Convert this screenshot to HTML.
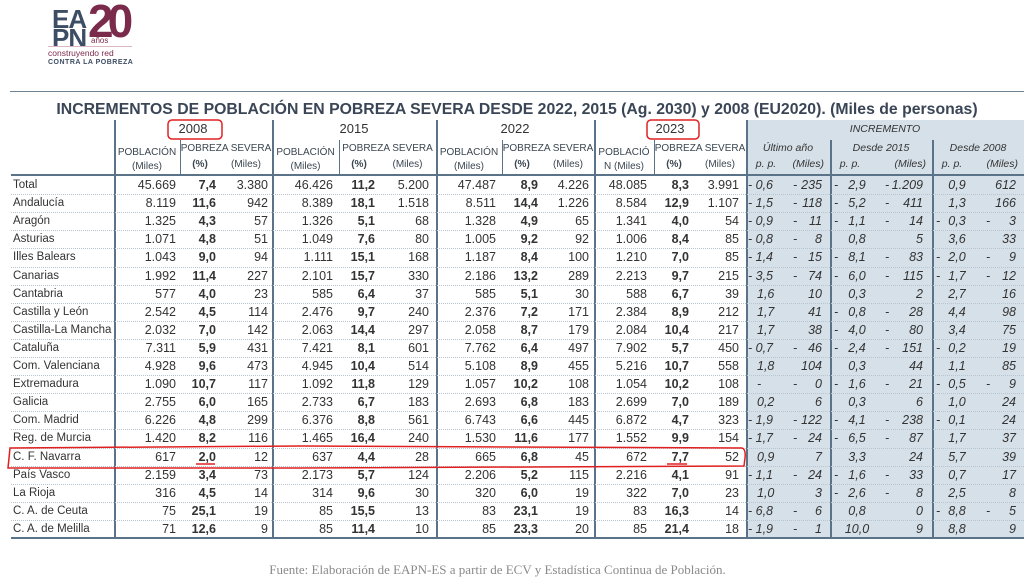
<!DOCTYPE html>
<html><head><meta charset="utf-8">
<style>
body{margin:0;width:1024px;height:582px;background:#fff;position:relative;overflow:hidden;font-family:"Liberation Sans",Arial,sans-serif;color:#333}
.a{position:absolute;white-space:nowrap}
.t{font-size:11.5px;line-height:18px}
.n{font-size:12.5px;line-height:18px;text-align:right}
.b{font-weight:bold}
.i{font-style:italic}
.hd{font-size:10px;color:#3a4650;text-align:center;line-height:14px}
</style></head><body>
<div class="a" style="left:746px;top:120px;width:278px;height:418px;background:#d6e0e8"></div>
<div class="a" style="left:46px;top:2px;width:90px;height:64px">
 <div class="a" style="left:6px;top:2px;font:bold 26px 'Liberation Sans';color:#3d4d63;letter-spacing:-1px">EA</div>
 <div class="a" style="left:6px;top:21px;font:bold 26px 'Liberation Sans';color:#3d4d63;letter-spacing:-1px">PN</div>
 <div class="a" style="left:42px;top:-8px;font:bold 46px 'Liberation Sans';color:#7a2a4a;letter-spacing:-6px">20</div>
 <div class="a" style="left:45px;top:34px;font-size:8px;color:#7a2a4a">años</div>
 <div class="a" style="left:2px;top:44px;width:84px;height:1px;background:#d9b8c4"></div>
 <div class="a" style="left:2px;top:46px;font-size:8.5px;color:#7a2a4a">construyendo red</div>
 <div class="a" style="left:2px;top:57px;font:bold 7px 'Liberation Sans';color:#3d4d63;letter-spacing:0.5px">CONTRA LA POBREZA</div>
</div>
<div class="a" style="left:10px;top:91px;width:1014px;height:1px;background:#6e8294"></div>
<div class="a b" style="left:0;width:1034px;top:101px;text-align:center;font-size:15.8px;color:#3a4656">INCREMENTOS DE POBLACIÓN EN POBREZA SEVERA DESDE 2022, 2015 (Ag. 2030) y 2008 (EU2020). (Miles de personas)</div>
<div id="tbl"></div>
<div class="a" style="left:0;width:995px;top:562px;text-align:center;font-family:'Liberation Serif',serif;font-size:13px;color:#8a8a8a">Fuente: Elaboración de EAPN-ES a partir de ECV y Estadística Continua de Población.</div>
<svg class="a" style="left:0;top:0" width="1024" height="582">
 <rect x="168" y="120" width="54" height="19" rx="4" fill="none" stroke="#e02020" stroke-width="1.5"/>
 <rect x="647" y="120" width="52" height="19" rx="4" fill="none" stroke="#e02020" stroke-width="1.5"/>
 <path d="M10 448 L300 446 L742 448 Q746 449 745 458 L744 466 L300 468 L8 468 Z" fill="none" stroke="#e02020" stroke-width="1.5"/>
 <line x1="196" y1="464" x2="215" y2="464" stroke="#e02020" stroke-width="1.5"/>
 <line x1="667" y1="464" x2="687" y2="464" stroke="#e02020" stroke-width="1.5"/>
</svg>
<script>
const regions=["Total","Andalucía","Aragón","Asturias","Illes Balears","Canarias","Cantabria","Castilla y León","Castilla-La Mancha","Cataluña","Com. Valenciana","Extremadura","Galicia","Com. Madrid","Reg. de Murcia","C. F. Navarra","País Vasco","La Rioja","C. A. de Ceuta","C. A. de Melilla"];
const pob2008=["45.669","8.119","1.325","1.071","1.043","1.992","577","2.542","2.032","7.311","4.928","1.090","2.755","6.226","1.420","617","2.159","316","75","71"];
const pct2008=["7,4","11,6","4,3","4,8","9,0","11,4","4,0","4,5","7,0","5,9","9,6","10,7","6,0","4,8","8,2","2,0","3,4","4,5","25,1","12,6"];
const mil2008=["3.380","942","57","51","94","227","23","114","142","431","473","117","165","299","116","12","73","14","19","9"];
const pob2015=["46.426","8.389","1.326","1.049","1.111","2.101","585","2.476","2.063","7.421","4.945","1.092","2.733","6.376","1.465","637","2.173","314","85","85"];
const pct2015=["11,2","18,1","5,1","7,6","15,1","15,7","6,4","9,7","14,4","8,1","10,4","11,8","6,7","8,8","16,4","4,4","5,7","9,6","15,5","11,4"];
const mil2015=["5.200","1.518","68","80","168","330","37","240","297","601","514","129","183","561","240","28","124","30","13","10"];
const pob2022=["47.487","8.511","1.328","1.005","1.187","2.186","585","2.376","2.058","7.762","5.108","1.057","2.693","6.743","1.530","665","2.206","320","83","85"];
const pct2022=["8,9","14,4","4,9","9,2","8,4","13,2","5,1","7,2","8,7","6,4","8,9","10,2","6,8","6,6","11,6","6,8","5,2","6,0","23,1","23,3"];
const mil2022=["4.226","1.226","65","92","100","289","30","171","179","497","455","108","183","445","177","45","115","19","19","20"];
const pob2023=["48.085","8.584","1.341","1.006","1.210","2.213","588","2.384","2.084","7.902","5.216","1.054","2.699","6.872","1.552","672","2.216","322","83","85"];
const pct2023=["8,3","12,9","4,0","8,4","7,0","9,7","6,7","8,9","10,4","5,7","10,7","10,2","7,0","4,7","9,9","7,7","4,1","7,0","16,3","21,4"];
const mil2023=["3.991","1.107","54","85","85","215","39","212","217","450","558","108","189","323","154","52","91","23","14","18"];
const uaPP=["-0,6","-1,5","-0,9","-0,8","-1,4","-3,5","1,6","1,7","1,7","-0,7","1,8","-","0,2","-1,9","-1,7","0,9","-1,1","1,0","-6,8","-1,9"];
const uaMil=["-235","-118","-11","-8","-15","-74","10","41","38","-46","104","-0","6","-122","-24","7","-24","3","-6","-1"];
const d15PP=["-2,9","-5,2","-1,1","0,8","-8,1","-6,0","0,3","-0,8","-4,0","-2,4","0,3","-1,6","0,3","-4,1","-6,5","3,3","-1,6","-2,6","0,8","10,0"];
const d15Mil=["-1.209","-411","-14","5","-83","-115","2","-28","-80","-151","44","-21","6","-238","-87","24","-33","-8","0","9"];
const d08PP=["0,9","1,3","-0,3","3,6","-2,0","-1,7","2,7","4,4","3,4","-0,2","1,1","-0,5","1,0","-0,1","1,7","5,7","0,7","2,5","-8,8","8,8"];
const d08Mil=["612","166","-3","33","-9","-12","16","98","75","19","85","-9","24","24","37","39","17","8","-5","9"];

const T=document.getElementById('tbl');
function add(html,style,cls,name){const d=document.createElement('div');d.className='a '+(cls||'');d.style.cssText=style;d.innerHTML=html;


T.appendChild(d);return d;}
add('','left:11px;top:174px;width:1013px;height:2px;background:#5a7389','','header-rule');
add('','left:11px;top:537px;width:1013px;height:2px;background:#5a7389','','bottom-rule');
[114,272,436,594,746].forEach(x=>add('',`left:${x}px;top:120px;width:2px;height:418px;background:#5a7389`,'','column-divider'));
[180,339,502,654].forEach(x=>add('',`left:${x}px;top:140px;width:1px;height:35px;background:#5a7389`,'','subcolumn-divider'));
[830,932].forEach(x=>add('',`left:${x}px;top:140px;width:2px;height:398px;background:#5a7389`,'','increment-divider'));
const yrs=[["2008",114,272],["2015",272,436],["2022",436,594],["2023",594,746]];
yrs.forEach(y=>add(y[0],`left:${y[1]}px;width:${y[2]-y[1]}px;top:121px;text-align:center;font-size:13px;color:#333`,'','year-header'));
[[114,180],[272,339],[436,502]].forEach(s=>{add('POBLACIÓN<br>(Miles)',`left:${s[0]}px;width:${s[1]-s[0]}px;top:146px`,'hd','poblacion-header');});
add('POBLACIÓ<br>N (Miles)','left:594px;width:60px;top:146px','hd','poblacion-header');
[[180,272],[339,436],[502,594],[654,746]].forEach(s=>{
 add('POBREZA SEVERA',`left:${s[0]}px;width:${s[1]-s[0]}px;top:142px`,'hd','pobreza-header');
 add('<b>(%)</b>',`left:${s[0]}px;width:40px;top:158px`,'hd','pct-header');
 add('(Miles)',`left:${s[0]+42}px;width:${s[1]-s[0]-44}px;top:158px`,'hd','miles-header');
});
add('INCREMENTO','left:746px;width:278px;top:123px;font-size:10.5px;text-align:center','i','increment-header');
[["Último año",746,830],["Desde 2015",830,932],["Desde 2008",932,1024]].forEach(s=>{
 add(s[0],`left:${s[1]}px;width:${s[2]-s[1]}px;top:142px;font-size:10.5px;text-align:center`,'i','period-header');
 add('p. p.',`left:${s[1]}px;width:40px;top:158px;font-size:10.5px;text-align:center`,'i','pp-header');
 add('(Miles)',`left:${s[1]+40}px;width:${s[2]-s[1]-46}px;top:158px;font-size:10.5px;text-align:right`,'i','miles-header');
});
const RT=176,RH=18.1;
function neg(v){return v.startsWith('-')&&v.length>1;}
const S='font-size:12.5px;line-height:18px;';
regions.forEach((r,i)=>{
 const y=RT+i*RH;
 if(i>0)add('',`left:11px;top:${y}px;width:1013px;height:0;border-top:1px dotted #b8c4ce`,'','row-rule');
 add(r,`left:13px;top:${y}px`,'t','region-label');
 const cols=[[pob2008,114,176,''],[pct2008,180,216,'b'],[mil2008,216,268,''],
  [pob2015,272,333,''],[pct2015,339,375,'b'],[mil2015,375,429,''],
  [pob2022,436,496,''],[pct2022,502,538,'b'],[mil2022,538,589,''],
  [pob2023,594,647,''],[pct2023,654,689,'b'],[mil2023,689,739,'']];
 cols.forEach(c=>add(c[0][i],`left:${c[1]}px;width:${c[2]-c[1]}px;top:${y}px`,'n '+c[3],'cell-value'));
 // Último año pp
 {let v=uaPP[i];const n=neg(v);const val=n?v.slice(1):v;
  add((n?'- ':'')+val,`left:748px;top:${y}px;${S}${n?'':'padding-left:9px'}`,'i','increment-pp');}
 // pp columns with separate dash
 [[d15PP,834,857],[d08PP,936,957]].forEach(c=>{
  let v=c[0][i];const n=neg(v);const val=n?v.slice(1):v;
  if(n)add('-',`left:${c[1]}px;top:${y}px;${S}`,'i','minus-sign');
  add(val,`left:${c[2]-20}px;width:40px;top:${y}px;${S}text-align:center`,'i','increment-pp');
 });
 // miles columns
 [[uaMil,793,822],[d15Mil,885,923],[d08Mil,986,1016]].forEach(c=>{
  let v=c[0][i];const n=neg(v)||v=='-0';const val=n?v.slice(1):v;
  if(n)add('-',`left:${c[1]}px;top:${y}px;${S}`,'i','minus-sign');
  add(val,`left:${c[2]-45}px;width:45px;top:${y}px`,'n i','increment-miles');
 });
});
</script>
</body></html>
